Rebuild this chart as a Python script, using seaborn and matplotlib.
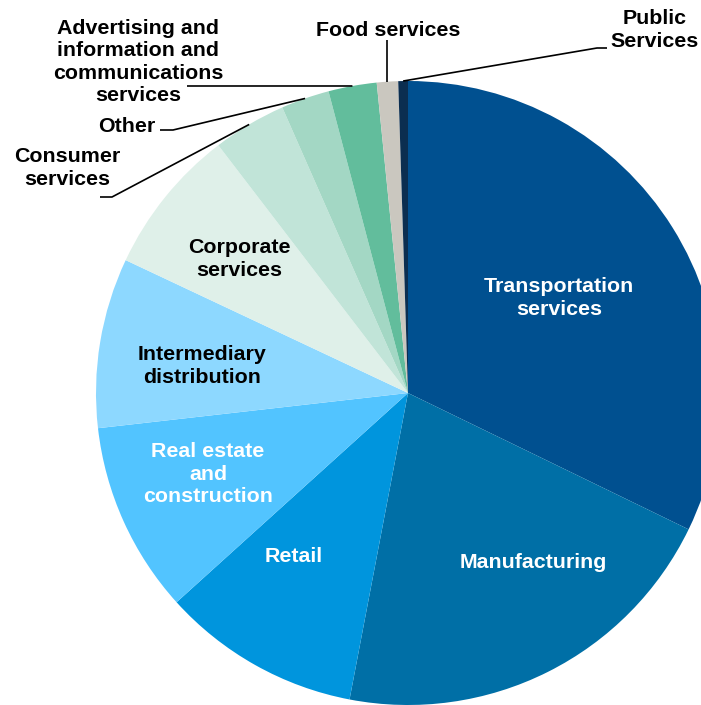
import numpy as np
import matplotlib
matplotlib.use("Agg")
import matplotlib.pyplot as plt
import seaborn as sns

sns.set_theme(style="white")
plt.rcParams['font.family'] = ['Liberation Sans', 'DejaVu Sans']

# ---- data ----
categories = ["Transportation services", "Manufacturing", "Retail",
              "Real estate and construction", "Intermediary distribution",
              "Corporate services", "Consumer services", "Other",
              "Advertising and information and communications services",
              "Food services", "Public Services"]
shares = [32.2, 20.8, 10.3, 9.9, 8.8, 7.6, 3.8, 2.5, 2.5, 1.1, 0.5]
colors = ["#005090", "#006fa6", "#0095dd", "#52c4ff", "#8dd8ff",
          "#dff0e9", "#c1e4d8", "#a3d7c4", "#62bd9c", "#cac7bf", "#0b2e50"]

W, H = 701, 705
fig = plt.figure(figsize=(W / 100, H / 100), dpi=100)
ax = fig.add_axes([0, 0, 1, 1])

def P(x, y):
    return x, H - y

cx, cy = P(408, 393)
R = 312
wedges, _ = ax.pie(shares, colors=colors, startangle=90, counterclock=False,
                   center=(cx, cy), radius=R, frame=True,
                   wedgeprops=dict(linewidth=0))
ax.set_xlim(0, W)
ax.set_ylim(0, H)
ax.axis("off")

def rim(i):
    w = wedges[i]
    a = np.deg2rad((w.theta1 + w.theta2) / 2)
    return cx + R * np.cos(a), cy + R * np.sin(a)

FS = 15.4
LS = 1.22
DY = 2
inside = [
    (0, "Transportation\nservices", (559, 296), "white"),
    (1, "Manufacturing", (533, 561), "white"),
    (2, "Retail", (294, 555), "white"),
    (3, "Real estate\nand\nconstruction", (208, 472), "white"),
    (4, "Intermediary\ndistribution", (202, 364), "black"),
    (5, "Corporate\nservices", (239, 257), "black"),
]
for i, txt, pos, col in inside:
    x, y = P(pos[0], pos[1] + DY)
    ax.text(x, y, txt, ha="center", va="center", color=col, fontsize=FS,
            fontweight="bold", linespacing=LS)

outside = [
    ("Consumer\nservices", (67, 166)),
    ("Other", (127, 125)),
    ("Advertising and\ninformation and\ncommunications\nservices", (138, 60)),
    ("Food services", (388, 29)),
    ("Public\nServices", (655, 28)),
]
for txt, pos in outside:
    x, y = P(pos[0], pos[1] + DY)
    ax.text(x, y, txt, ha="center", va="center", color="black", fontsize=FS,
            fontweight="bold", linespacing=LS)

lk = dict(color="black", linewidth=1.2, solid_capstyle="butt")
# Consumer services
rx, ry = rim(6)
pts = [P(100, 197), P(112, 197), (rx, ry)]
ax.plot(*zip(*pts), **lk)
# Other
rx, ry = rim(7)
pts = [P(160, 130), P(173, 130), (rx, ry)]
ax.plot(*zip(*pts), **lk)
# Advertising
rx, ry = rim(8)
pts = [P(187, 86), (rx, ry)]
ax.plot(*zip(*pts), **lk)
# Food services
rx, ry = rim(9)
pts = [(rx, P(0, 40)[1]), (rx, ry)]
ax.plot(*zip(*pts), **lk)
# Public services
rx, ry = rim(10)
pts = [(rx, ry), P(597, 48), P(607, 48)]
ax.plot(*zip(*pts), **lk)

fig.savefig("out.png", dpi=100)
